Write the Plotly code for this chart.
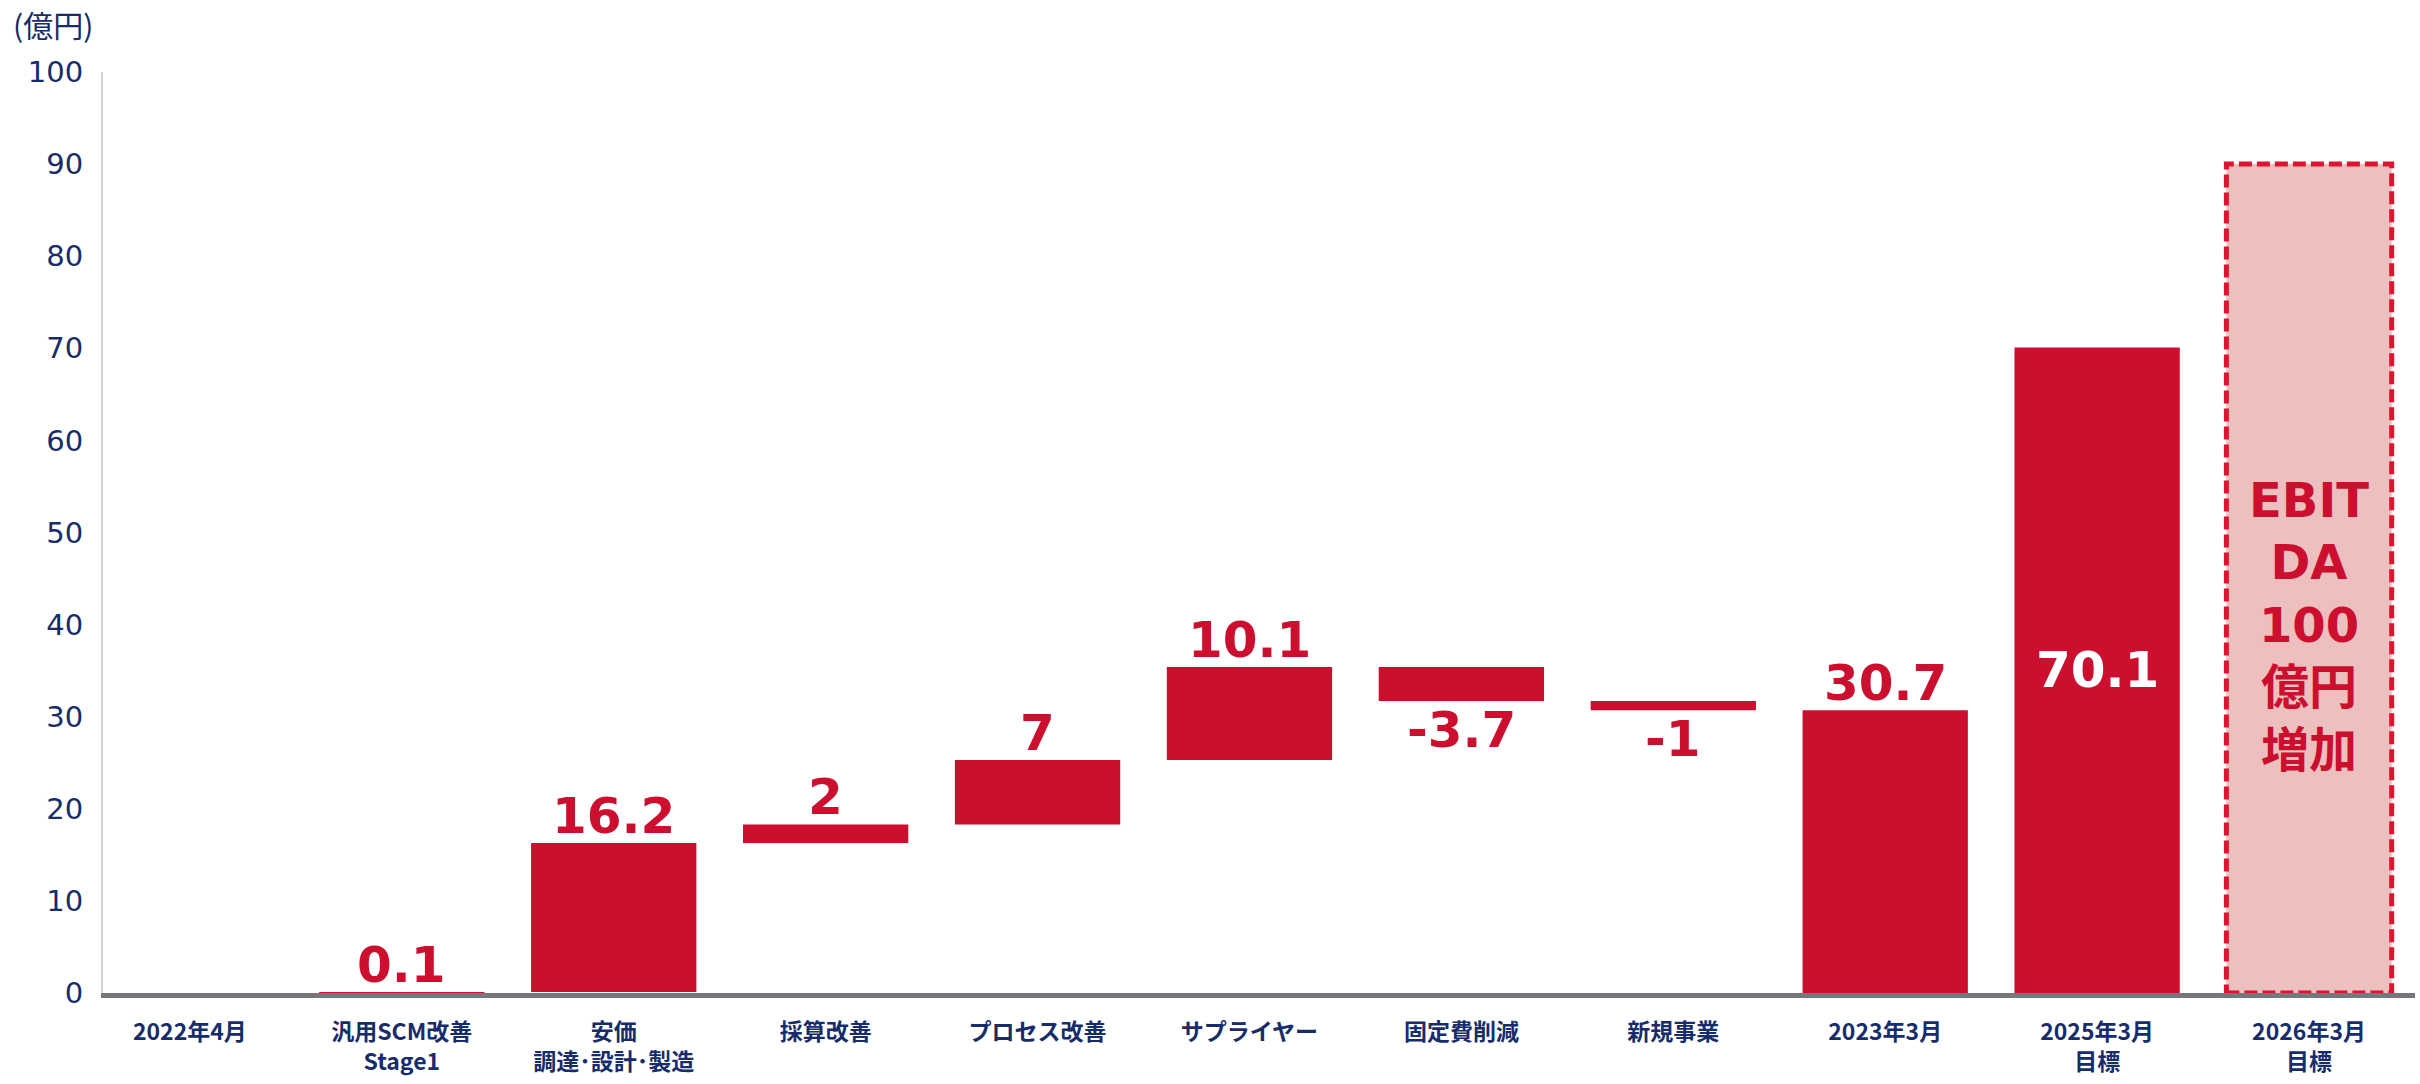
import plotly.graph_objects as go

# ---- data -------------------------------------------------------------
categories = [
    "2022年4月",
    "汎用SCM改善<br>Stage1",
    "安価<br>調達･設計･製造",
    "採算改善",
    "プロセス改善",
    "サプライヤー",
    "固定費削減",
    "新規事業",
    "2023年3月",
    "2025年3月<br>目標",
    "2026年3月<br>目標",
]
start_value = 0                                   # 2022年4月
step_values = [0.1, 16.2, 2, 7, 10.1, -3.7, -1]   # 改善項目ごとの増減
actual_2023 = 30.7                                # 2023年3月 実績
target_2025 = 70.1                                # 2025年3月 目標
target_2026 = 90                                  # 2026年3月 目標 (枠)
target_2026_text = "EBIT<br>DA<br>100<br>億円<br>増加"
y_ticks = [0, 10, 20, 30, 40, 50, 60, 70, 80, 90, 100]
unit_label = "(億円)"

# ---- styles -----------------------------------------------------------
RED = "#cc0f2e"
PINK = "#edbfbf"
DASH_RED = "#dc1430"
NAVY = "#172c6b"
AXIS_GRAY = "#77777b"
BAR_W = 0.78
NUM_FONT = "DejaVu Sans, Noto Sans CJK JP"
JP_FONT = "Noto Sans CJK JP, DejaVu Sans"

# ---- waterfall geometry (base + height per bar) -----------------------
bases, heights = [0], [start_value]
running = start_value
for v in step_values:
    bases.append(running if v >= 0 else running + v)
    heights.append(abs(v))
    running += v
bases += [0, 0]
heights += [actual_2023, target_2025]
main_x = categories[:10]

fig = go.Figure()
fig.add_trace(go.Bar(
    x=main_x, y=heights, base=bases, width=BAR_W,
    marker=dict(color=RED, line=dict(width=0)),
    hoverinfo="skip", showlegend=False,
))
fig.add_trace(go.Bar(
    x=[categories[10]], y=[target_2026], base=[0], width=BAR_W,
    marker=dict(color=PINK, line=dict(width=0)),
    hoverinfo="skip", showlegend=False,
))

# dashed outline of the 2026 target bar
idx_2026 = len(categories) - 1
fig.add_shape(
    type="rect", xref="x", yref="y",
    x0=idx_2026 - BAR_W / 2, x1=idx_2026 + BAR_W / 2, y0=0, y1=target_2026,
    line=dict(color=DASH_RED, width=5, dash="13px,5px"),
    fillcolor="rgba(0,0,0,0)", layer="above",
)

annotations = []
label_font = dict(family=NUM_FONT, size=50, color=RED, weight="bold")

# step labels: above increases, below decreases
running = start_value
for i, v in enumerate(step_values, start=1):
    txt = f"{v:g}"
    if v >= 0:
        annotations.append(dict(x=categories[i], y=running + v, text=txt,
                                showarrow=False, yanchor="bottom", yshift=-4,
                                font=label_font))
    else:
        annotations.append(dict(x=categories[i], y=running + v, text=txt,
                                showarrow=False, yanchor="top", yshift=2,
                                font=label_font))
    running += v

annotations.append(dict(x=categories[8], y=actual_2023, text=f"{actual_2023:g}",
                        showarrow=False, yanchor="bottom", yshift=-4, font=label_font))
annotations.append(dict(x=categories[9], y=target_2025 / 2, text=f"{target_2025:g}",
                        showarrow=False, yanchor="middle",
                        font=dict(family=NUM_FONT, size=50, color="white", weight="bold")))
annotations.append(dict(x=categories[10], y=40, text=target_2026_text,
                        showarrow=False, yanchor="middle",
                        font=dict(family=NUM_FONT, size=48, color=RED, weight="bold")))
annotations.append(dict(xref="paper", yref="paper", x=-0.04, y=1.052,
                        xanchor="left", yanchor="middle", text=unit_label,
                        showarrow=False,
                        font=dict(family=JP_FONT, size=30, color=NAVY)))

fig.update_layout(
    width=2420, height=1084,
    margin=dict(l=103, r=5, t=72, b=91),
    paper_bgcolor="white", plot_bgcolor="white",
    barmode="overlay",
    annotations=annotations,
    xaxis=dict(
        type="category", categoryorder="array", categoryarray=categories,
        range=[-0.41, 10.5],
        showgrid=False, zeroline=False, ticks="",
        showline=True, linecolor=AXIS_GRAY, linewidth=5,
        tickfont=dict(family=JP_FONT, size=23, color=NAVY, weight="bold"),
        ticklabelstandoff=14,
    ),
    yaxis=dict(
        range=[0, 100], tickvals=y_ticks,
        showgrid=False, zeroline=False, ticks="",
        showline=True, linecolor="#d4d4d4", linewidth=2,
        tickfont=dict(family=NUM_FONT, size=29, color=NAVY),
        ticklabelstandoff=12,
    ),
)

fig.write_html("out.html")
